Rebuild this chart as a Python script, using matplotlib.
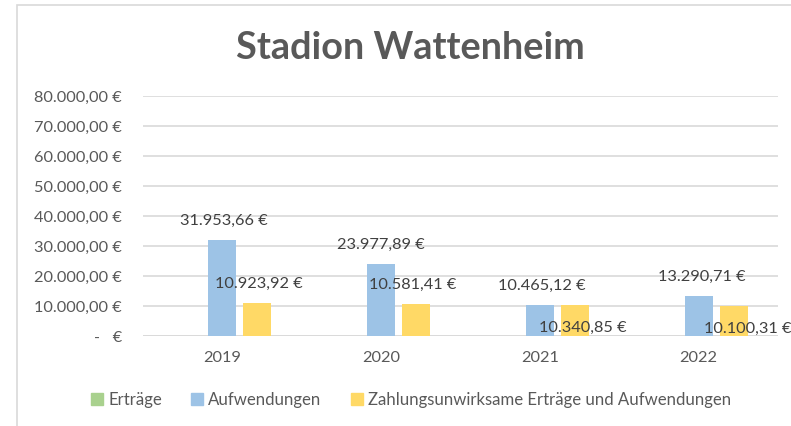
import matplotlib
matplotlib.use("Agg")
import matplotlib.pyplot as plt
from matplotlib.patches import Rectangle, Patch
import numpy as np

plt.rcParams['font.family'] = ['Lato', 'DejaVu Sans']

years = ["2019", "2020", "2021", "2022"]
ertraege = [0, 0, 0, 0]
aufwendungen = [31953.66, 23977.89, 10465.12, 13290.71]
zahlungsunwirksam = [10923.92, 10581.41, 10340.85, 10100.31]
series_names = ["Erträge", "Aufwendungen", "Zahlungsunwirksame Erträge und Aufwendungen"]
yticks = [0, 10000, 20000, 30000, 40000, 50000, 60000, 70000, 80000]

C_GREEN = "#A9D18E"
C_BLUE = "#9DC3E6"
C_YELLOW = "#FFD966"
TXT = "#595959"
LBL = "#404040"
GRID = "#D9D9D9"


def eur(v):
    if v == 0:
        return "-   €"
    s = f"{v:,.2f}".replace(",", "X").replace(".", ",").replace("X", ".")
    return s + " €"


W, H = 791, 426
fig = plt.figure(figsize=(W / 100, H / 100), dpi=100)

# chart frame
fig.patches.append(Rectangle((17 / W, -0.05), 1.2, (H - 5) / H + 0.05,
                             transform=fig.transFigure, fill=False,
                             edgecolor=GRID, linewidth=1.2))

ax = fig.add_axes([143 / W, 90 / H, (778 - 143) / W, (336 - 96) / H])
x = np.arange(len(years))
bw = 0.176
off = 0.22
ax.bar(x - off, ertraege, bw, color=C_GREEN, zorder=3)
ax.bar(x, aufwendungen, bw, color=C_BLUE, zorder=3)
ax.bar(x + off, zahlungsunwirksam, bw, color=C_YELLOW, zorder=3)

FS = 11.8
ax.set_xlim(-0.5, len(years) - 0.5)
ax.set_ylim(0, 80000)
ax.set_yticks(yticks)
ax.set_yticklabels([eur(v) for v in yticks])
ax.set_xticks(x)
ax.set_xticklabels(years)
ax.tick_params(axis='y', length=0, pad=15, labelsize=FS, labelcolor=TXT)
ax.tick_params(axis='x', length=0, pad=11, labelsize=FS, labelcolor=TXT)
ax.grid(axis='y', color=GRID, linewidth=1.2, zorder=0)
for s in ax.spines.values():
    s.set_visible(False)
ax.axhline(0, color=GRID, linewidth=1.2, zorder=2)

# data labels (pixel offsets from bar top center)
blue_offsets = [(2, 19), (0, 19), (2, 19), (3, 19)]
yellow_offsets = [(2, 19), (-3, 19), (8, -23), (14, -23)]
for i in range(len(years)):
    ax.annotate(eur(aufwendungen[i]), (x[i], aufwendungen[i]),
                xytext=blue_offsets[i], textcoords="offset pixels",
                ha="center", va="center", fontsize=FS, color=LBL, zorder=5)
    ax.annotate(eur(zahlungsunwirksam[i]), (x[i] + off, zahlungsunwirksam[i]),
                xytext=yellow_offsets[i], textcoords="offset pixels",
                ha="center", va="center", fontsize=FS, color=LBL, zorder=5)

fig.text(410 / W, 1 - 48 / H, "Stadion Wattenheim", ha="center", va="center",
         fontsize=27.3, fontweight="bold", color=TXT)

handles = [Patch(color=C_GREEN), Patch(color=C_BLUE), Patch(color=C_YELLOW)]
fig.legend(handles, series_names, loc="center", bbox_to_anchor=(411 / W, 1 - 400 / H),
           ncol=3, frameon=False, fontsize=12.1, labelcolor=TXT,
           handlelength=0.7, handleheight=0.7, handletextpad=0.3, columnspacing=1.75)

fig.savefig("out.png", dpi=100)
